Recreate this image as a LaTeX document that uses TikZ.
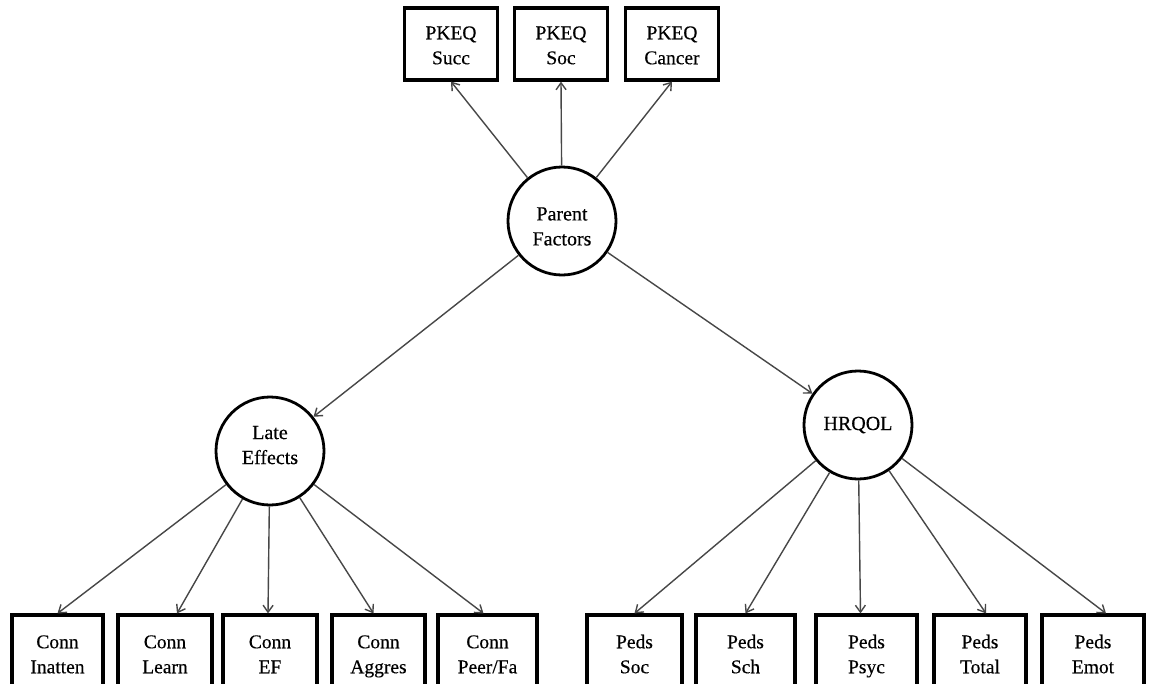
\documentclass[tikz,border=0pt]{standalone}
\usepackage{fontspec}
\setmainfont{Liberation Serif}[FakeBold=0.4]
\usetikzlibrary{arrows.meta}
\newcommand{\boxtext}[2]{\rule{0pt}{23pt}#1\\#2\strut}

\begin{document}
\begin{tikzpicture}[x=1pt, y=-1pt, thick,
    >={Straight Barb[length=7pt,width=10pt]},
    latent/.style = {draw, circle, line width=2.8pt, minimum size=108pt, inner sep=0pt, align=center, font=\fontsize{20}{25}\selectfont},
    box/.style = {draw, rectangle, line width=3.2pt, minimum width=93pt, minimum height=76pt, align=center, font=\fontsize{19.5}{25}\selectfont},
    path/.style = {->, line width=1.4pt, draw=black!72}]
            \clip (0,0) rectangle (1149,683);
            \fill[white] (0,0) rectangle (1149,683);
            % latent factors
            \node[latent] (parent) at (562,221) {\rule{0pt}{24pt}Parent\\Factors};
            \node[latent] (late)   at (270,451) {Late\\Effects\rule[-12pt]{0pt}{0pt}};
            \node[latent] (hrqol)  at (858,425) {HRQOL};
            % PKEQ indicators
            \node[box, minimum height=72pt] (succ)   at (451,44) {\boxtext{PKEQ}{Succ}};
            \node[box, minimum height=72pt] (soc)    at (561,44) {\boxtext{PKEQ}{Soc}};
            \node[box, minimum height=72pt] (cancer) at (672,44) {\boxtext{PKEQ}{Cancer}};
            % Conners indicators
            \node[box, minimum width=91pt] (inatten) at (57.5,653)  {\boxtext{Conn}{Inatten}};
            \node[box, minimum width=94pt] (learn)   at (165,653)   {\boxtext{Conn}{Learn}};
            \node[box, minimum width=94pt] (ef)      at (270,653)   {\boxtext{Conn}{EF}};
            \node[box, minimum width=93pt] (aggres)  at (378.5,653) {\boxtext{Conn}{Aggres}};
            \node[box, minimum width=99pt] (peer)    at (487.5,653) {\boxtext{Conn}{Peer/Fa}};
            % PedsQL indicators
            \node[box, minimum width=95pt]  (psoc)  at (634.5,653) {\boxtext{Peds}{Soc}};
            \node[box, minimum width=99pt]  (psch)  at (745.5,653) {\boxtext{Peds}{Sch}};
            \node[box, minimum width=101pt] (psyc)  at (866.5,653) {\boxtext{Peds}{Psyc}};
            \node[box, minimum width=92pt]  (total) at (980,653)   {\boxtext{Peds}{Total}};
            \node[box, minimum width=102pt] (emot)  at (1093,653)  {\boxtext{Peds}{Emot}};
            \draw[path] (parent) edge (succ.south);
            \draw[path] (parent) edge (soc.south);
            \draw[path] (parent) edge (cancer.south);
            \draw[path] (parent) edge (late);
            \draw[path] (parent) edge (hrqol);
            \draw[path] (late) edge (inatten.north);
            \draw[path] (late) edge ([xshift=12pt]learn.north);
            \draw[path] (late) edge ([xshift=-2pt]ef.north);
            \draw[path] (late) edge ([xshift=-5pt]aggres.north);
            \draw[path] (late) edge ([xshift=-4pt]peer.north);
            \draw[path] (hrqol) edge (psoc.north);
            \draw[path] (hrqol) edge (psch.north);
            \draw[path] (hrqol) edge ([xshift=-6pt]psyc.north);
            \draw[path] (hrqol) edge ([xshift=6pt]total.north);
            \draw[path] (hrqol) edge ([xshift=13pt]emot.north);
        \end{tikzpicture}
\end{document}
